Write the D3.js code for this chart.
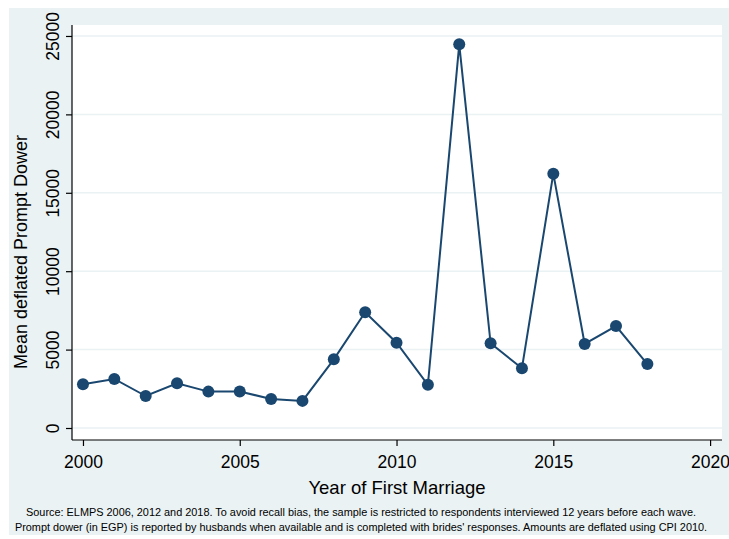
<!DOCTYPE html>
<html>
<head>
<meta charset="utf-8">
<script src="https://cdn.jsdelivr.net/npm/d3@7"></script>
<style>
  html, body { margin: 0; padding: 0; background: #ffffff; }
  svg { display: block; font-family: "Liberation Sans", Arial, sans-serif; }
</style>
</head>
<body>
<script>
// Mean deflated prompt dower by year of first marriage
const years = [2000, 2001, 2002, 2003, 2004, 2005, 2006, 2007, 2008, 2009,
               2010, 2011, 2012, 2013, 2014, 2015, 2016, 2017, 2018];
const dower = [2790, 3130, 2040, 2850, 2320, 2330, 1850, 1730, 4380, 7380,
               5440, 2760, 24470, 5400, 3810, 16220, 5360, 6500, 4080];
const xTicks = [2000, 2005, 2010, 2015, 2020];
const yTicks = [0, 5000, 10000, 15000, 20000, 25000];
const xTitle = "Year of First Marriage";
const yTitle = "Mean deflated Prompt Dower";
const notes = [
  "Source: ELMPS 2006, 2012 and 2018. To avoid recall bias, the sample is restricted to respondents interviewed 12 years before each wave.",
  "Prompt dower (in EGP) is reported by husbands when available and is completed with brides' responses. Amounts are deflated using CPI 2010."
];

const W = 729, H = 539;
const plot = { left: 72, right: 722, top: 25, bottom: 440 };
const navy = "#1a476f";
const bg = "#eaf2f3";

const svg = d3.select("body").append("svg")
  .attr("width", W).attr("height", H);

// outer graph region
svg.append("rect").attr("x", 9).attr("y", 8)
  .attr("width", W - 9).attr("height", 527).attr("fill", bg);
// plot region
svg.append("rect").attr("x", plot.left).attr("y", plot.top)
  .attr("width", plot.right - plot.left).attr("height", plot.bottom - plot.top)
  .attr("fill", "#ffffff");

const x = d3.scaleLinear().domain([1999.65, 2020.38]).range([plot.left, plot.right]);
const y = d3.scaleLinear().domain([-765, 25700]).range([plot.bottom, plot.top]);

// horizontal grid
svg.append("g").selectAll("line").data(yTicks).join("line")
  .attr("x1", plot.left).attr("x2", plot.right)
  .attr("y1", d => y(d)).attr("y2", d => y(d))
  .attr("stroke", bg).attr("stroke-width", 1.5);

// y axis
const yAxis = svg.append("g")
  .attr("transform", `translate(${plot.left},0)`)
  .call(d3.axisLeft(y).tickValues(yTicks).tickSize(6).tickPadding(4).tickFormat(d3.format("d")));
yAxis.select(".domain").attr("d", `M0,${plot.top}V${plot.bottom}`).attr("stroke", "#000").attr("stroke-width", 1.2);
yAxis.selectAll(".tick line").attr("stroke", "#000").attr("stroke-width", 1.2);
yAxis.selectAll(".tick text")
  .attr("font-size", 17.5).attr("fill", "#000")
  .attr("text-anchor", "middle")
  .attr("transform", "rotate(-90)")
  .attr("x", 0).attr("y", -13).attr("dy", 0);

// x axis
const xAxis = svg.append("g")
  .attr("transform", `translate(0,${plot.bottom})`)
  .call(d3.axisBottom(x).tickValues(xTicks).tickSize(6).tickPadding(10).tickFormat(d3.format("d")));
xAxis.select(".domain").attr("d", `M${plot.left},0H${plot.right}`).attr("stroke", "#000").attr("stroke-width", 1.2);
xAxis.selectAll(".tick line").attr("stroke", "#000").attr("stroke-width", 1.2);
xAxis.selectAll(".tick text").attr("font-size", 17.5).attr("fill", "#000");

// axis titles
svg.append("text")
  .attr("x", (plot.left + plot.right) / 2).attr("y", 494)
  .attr("text-anchor", "middle").attr("font-size", 18.5).attr("fill", "#000")
  .text(xTitle);
svg.append("text")
  .attr("transform", "translate(27,252) rotate(-90)")
  .attr("text-anchor", "middle").attr("font-size", 18).attr("fill", "#000")
  .text(yTitle);

// series
const pts = years.map((yr, i) => ({ yr, v: dower[i] }));
svg.append("path").datum(pts)
  .attr("fill", "none").attr("stroke", navy).attr("stroke-width", 2)
  .attr("d", d3.line().x(d => x(d.yr)).y(d => y(d.v)));
svg.append("g").selectAll("circle").data(pts).join("circle")
  .attr("cx", d => x(d.yr)).attr("cy", d => y(d.v)).attr("r", 6)
  .attr("fill", navy);

// notes
svg.append("g").selectAll("text").data(notes).join("text")
  .attr("x", 361).attr("y", (d, i) => 516 + i * 14.5)
  .attr("text-anchor", "middle").attr("font-size", 10.9).attr("fill", "#000")
  .text(d => d);
</script>
</body>
</html>
